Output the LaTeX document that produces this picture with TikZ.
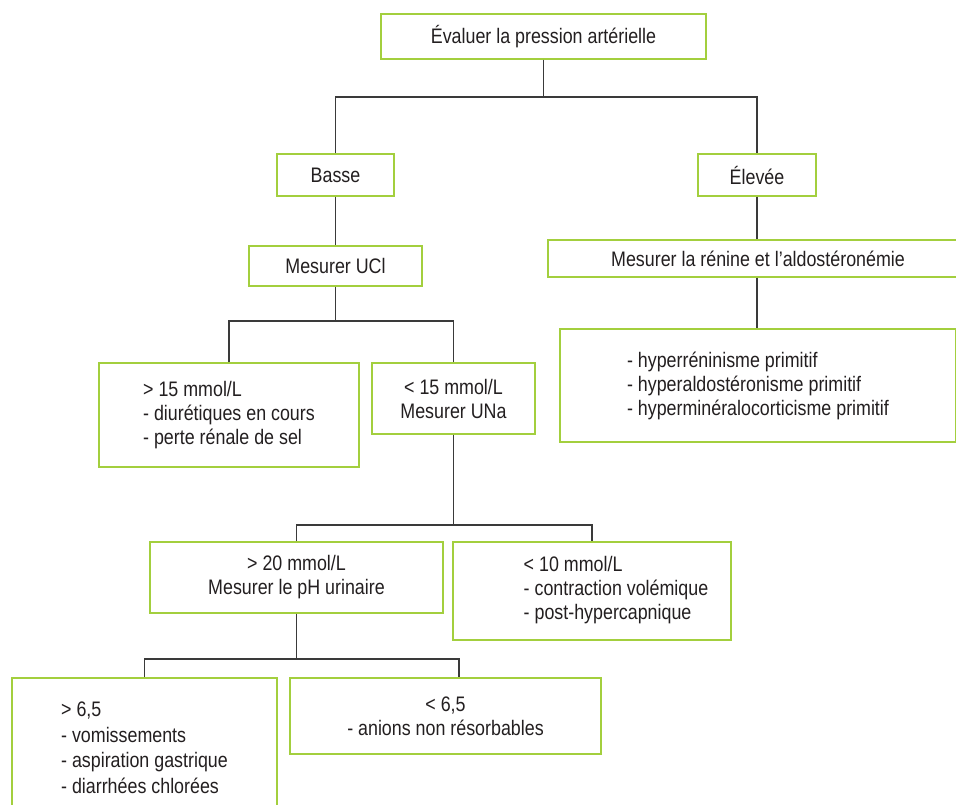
\documentclass[tikz,border=0pt]{standalone}
\usepackage{fontspec}
\setmainfont[FakeStretch=0.85]{Liberation Sans}
\definecolor{boxgreen}{HTML}{A3CF3E}
\definecolor{txt}{HTML}{231F20}
\definecolor{linegray}{HTML}{3A3A3A}
\begin{document}
\begin{tikzpicture}[x=1pt,y=-1pt,
  box/.style={draw=boxgreen, line width=1.4pt, fill=white, inner sep=0pt, text=txt,
    font=\fontsize{21}{24}\selectfont},
  conn/.style={draw=linegray, line width=1.2pt}]
\useasboundingbox (0,0) rectangle (956,804);

\node[box, minimum width=325pt, minimum height=45pt] (top) at (543.5,36.5) {Évaluer la pression artérielle};
\node[box, minimum width=117pt, minimum height=42pt] (basse) at (335.5,175) {Basse};
\node[box, minimum width=118pt, minimum height=42pt] (elevee) at (757,175) {Élevée};
\node[box, minimum width=173pt, minimum height=40pt] (ucl) at (335.5,266) {Mesurer UCl};
\node[box, minimum width=420pt, minimum height=37pt] (renine) at (758,258.5) {Mesurer la rénine et l’aldostéronémie};
\node[box, minimum width=396pt, minimum height=113pt, align=left] (hyper) at (758,385.5)
  {- hyperréninisme primitif\\- hyperaldostéronisme primitif\\- hyperminéralocorticisme primitif};
\node[box, minimum width=260pt, minimum height=104pt, align=left] (gt15) at (229,415)
  {> 15 mmol/L\\- diurétiques en cours\\- perte rénale de sel};
\node[box, minimum width=163pt, minimum height=71pt, align=center] (lt15) at (453.5,398.5)
  {< 15 mmol/L\\Mesurer UNa};
\node[box, minimum width=293pt, minimum height=71pt, align=center] (gt20) at (296.5,577.5)
  {> 20 mmol/L\\Mesurer le pH urinaire};
\node[box, minimum width=278pt, minimum height=98pt] (lt10) at (592,591)
  {\hspace*{48pt}\begin{tabular}{@{}l@{}}< 10 mmol/L\\- contraction volémique\\- post-hypercapnique\end{tabular}};
\node[box, minimum width=265pt, minimum height=140pt, align=left, font=\fontsize{21}{25.5}\selectfont] (gt65) at (144.5,748)
  {> 6,5\\- vomissements\\- aspiration gastrique\\- diarrhées chlorées};
\node[box, minimum width=311pt, minimum height=76pt, align=center] (lt65) at (445.5,716)
  {< 6,5\\- anions non résorbables};

\coordinate (j1) at (543.5,97);
\coordinate (j2) at (335.5,321);
\coordinate (j3) at (453.5,525);
\coordinate (j4) at (296.5,659);

\draw[conn] (top.south) -- (j1);
\draw[conn] (basse.north) |- (j1) -| (elevee.north);
\draw[conn] (basse.south) -- (ucl.north);
\draw[conn] (elevee.south) -- (elevee.south |- renine.north);
\draw[conn] (renine.south -| elevee.south) -- (elevee.south |- hyper.north);
\draw[conn] (ucl.south) -- (j2);
\draw[conn] (gt15.north) |- (j2) -| (lt15.north);
\draw[conn] (lt15.south) -- (j3);
\draw[conn] (gt20.north) |- (j3) -| (lt10.north);
\draw[conn] (gt20.south) -- (j4);
\draw[conn] (gt65.north) |- (j4) -| ([xshift=13.5pt]lt65.north);
\end{tikzpicture}
\end{document}
